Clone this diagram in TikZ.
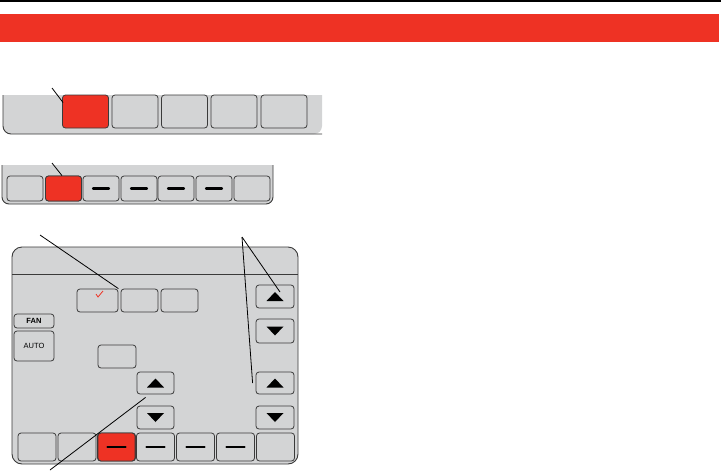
\documentclass[tikz,border=0pt]{standalone}
\usepackage{fontspec}
\newfontfamily\keyfont{Liberation Sans}
\definecolor{warnred}{RGB}{238,50,36}
\definecolor{panelgray}{RGB}{211,212,213}
\definecolor{edgegray}{RGB}{58,58,58}
\tikzset{
panel/.style={fill=panelgray, draw=edgegray, line width=0.9pt},
key/.style={draw=edgegray, fill=panelgray, rounded corners=3pt, line width=0.8pt, inner sep=0pt},
keyon/.style={key, fill=warnred},
pointer/.style={draw=black, line width=0.8pt}}
\tikzset{every picture/.style={line width=0.75pt}}

\begin{document}
\begin{tikzpicture}[x=1pt,y=1pt,yscale=-1]
\useasboundingbox (0,0) rectangle (721,472);

% Header
\draw [line width=1.2pt] (0,1) -- (721,1);
\fill [warnred] (0,14) rectangle (719,42);

% Panel 1
\fill [panelgray] (3,95) [rounded corners=8pt] -- (3,134) -- (322,134) [sharp corners] -- (322,95) -- cycle;
\draw [edgegray, line width=0.9pt] (3,95) [rounded corners=8pt] -- (3,134) -- (322,134);
\node [keyon, minimum width=46pt, minimum height=33pt] (topA) at (85.5,111.5) {};
\node [key, minimum width=46pt, minimum height=33pt] (topB) at (135,111.5) {};
\node [key, minimum width=46pt, minimum height=33pt] (topC) at (184.5,111.5) {};
\node [key, minimum width=46pt, minimum height=33pt] (topD) at (234,111.5) {};
\node [key, minimum width=46pt, minimum height=33pt] (topE) at (284,111.5) {};

% Panel 2
\fill [panelgray] (2,165) [rounded corners=7pt] -- (2,204) -- (273,204) [sharp corners] -- (273,165) -- cycle;
\draw [edgegray, line width=0.9pt] (2,165) [rounded corners=7pt] -- (2,204) -- (273,204) -- (273,165);
\foreach \x/\n in {25/1,63.5/2,101/3,139/4,176/5,214/6,252/7}
  \node [key, minimum width=36pt, minimum height=25pt] (mid\n) at (\x,188.5) {};
\node [keyon, minimum width=36pt, minimum height=25pt] at (mid2) {};
\foreach \n in {3,4,5,6}
  \draw [line width=2.2pt, line cap=round] ([xshift=-8pt]mid\n.center) -- ([xshift=8pt]mid\n.center);

% Panel 3
\draw [panel, rounded corners=10pt] (12,247) rectangle (298,464);
\draw [edgegray, line width=0.9pt] (12,274) -- (298,274);
% mode keys
\node [key, minimum width=41pt, minimum height=23pt] (modeA) at (97.5,300.5) {};
\node [key, minimum width=37pt, minimum height=23pt] (modeB) at (139.5,300.5) {};
\node [key, minimum width=37pt, minimum height=23pt] (modeC) at (179.5,300.5) {};
\draw [warnred, line width=0.8pt] ([shift={(-1.5,-6.5)}]modeA.center) -- ([shift={(0.5,-3.5)}]modeA.center) -- ([shift={(5.5,-9.5)}]modeA.center);
% fan keys
\node [key, minimum width=40pt, minimum height=14pt, font=\keyfont\bfseries\fontsize{7.5}{8}\selectfont] (fan) at (34,321) {FAN};
\node [key, minimum width=40pt, minimum height=30pt, font=\keyfont\fontsize{7.5}{8}\selectfont] (auto) at (34,346) {AUTO};
\node [key, minimum width=38pt, minimum height=23pt] (hold) at (117,356.5) {};
% arrow keys
\node [key, minimum width=37pt, minimum height=22pt] (mup) at (155.5,383) {};
\node [key, minimum width=37pt, minimum height=23pt] (mdn) at (155.5,417.5) {};
\node [key, minimum width=38pt, minimum height=23pt] (rup1) at (275,296.5) {};
\node [key, minimum width=38pt, minimum height=24pt] (rdn1) at (275,331) {};
\node [key, minimum width=38pt, minimum height=22pt] (rup2) at (275,383) {};
\node [key, minimum width=38pt, minimum height=23pt] (rdn2) at (275,417.5) {};
\foreach \n in {mup,rup1,rup2}
  \fill ([shift={(-8.5,4.5)}]\n.center) -- ([shift={(8.5,4.5)}]\n.center) -- ([shift={(0,-4.5)}]\n.center) -- cycle;
\foreach \n in {mdn,rdn1,rdn2}
  \fill ([shift={(-8.5,-4.5)}]\n.center) -- ([shift={(8.5,-4.5)}]\n.center) -- ([shift={(0,4.5)}]\n.center) -- cycle;
% bottom keys
\foreach \x/\n in {37/1,77/2,116.5/3,155.5/4,195.5/5,235.5/6,275.5/7}
  \node [key, minimum width=38pt, minimum height=28pt] (bot\n) at (\x,447) {};
\node [keyon, minimum width=37pt, minimum height=28pt] at (bot3) {};
\foreach \n in {3,4,5,6}
  \draw [line width=2.2pt, line cap=round] ([xshift=-9pt]bot\n.center) -- ([xshift=9pt]bot\n.center);

% Pointers
\coordinate (c1) at (52,88);
\coordinate (c2) at (52,163);
\coordinate (c3) at (40,235);
\coordinate (c4) at (242,237);
\coordinate (c5) at (50,470);
\draw [pointer] (c1) -- ([xshift=1pt,yshift=8pt]topA.north west);
\draw [pointer] (c2) -- ([xshift=-1.5pt]mid2.north);
\draw [pointer] (c3) -- (modeA.north east);
\draw [pointer] (c4) -- ([shift={(5,-4.5)}]rup1.center);
\draw [pointer] (c4) -- ([xshift=-3pt]rup2.west);
\draw [pointer] (c5) -- ([xshift=9pt,yshift=3pt]mup.south west);

\end{tikzpicture}
\end{document}
